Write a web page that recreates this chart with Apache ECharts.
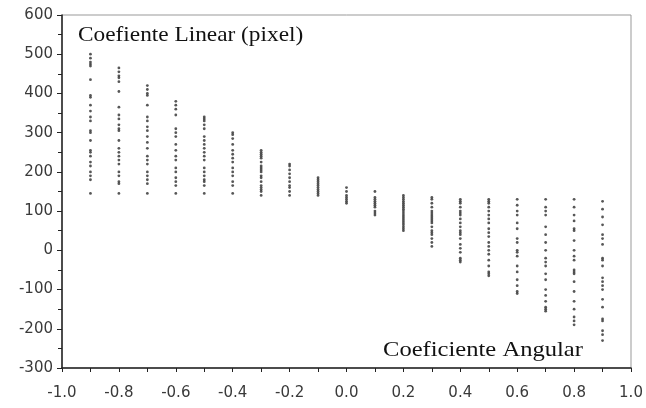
<!DOCTYPE html>
<html>
<head>
<meta charset="utf-8">
<script src="https://cdn.jsdelivr.net/npm/echarts@6/dist/echarts.min.js"></script>
<style>html,body{margin:0;padding:0;background:#fff}#c{width:646px;height:408px}</style>
</head>
<body>
<div id="c"></div>
<script>
// Slope (coeficiente angular) columns
const slopes = [-0.9, -0.8, -0.7, -0.6, -0.5, -0.4, -0.3, -0.2, -0.1, 0.0, 0.1, 0.2, 0.3, 0.4, 0.5, 0.6, 0.7, 0.8, 0.9];
// Intercept values (coeficiente linear, pixel) for each slope column
const intercepts = [
  [500, 490, 480, 475, 470, 435, 395, 390, 370, 355, 340, 330, 305, 300, 280, 255, 250, 240, 225, 215, 200, 190, 180, 145],
  [465, 455, 445, 440, 430, 405, 365, 345, 335, 320, 310, 305, 280, 260, 250, 240, 230, 220, 200, 190, 175, 170, 145],
  [420, 410, 400, 395, 370, 340, 330, 315, 305, 290, 275, 260, 240, 230, 220, 200, 190, 180, 170, 145],
  [380, 370, 360, 345, 310, 300, 290, 270, 255, 240, 230, 210, 200, 185, 175, 165, 145],
  [340, 335, 330, 320, 310, 290, 280, 270, 260, 250, 240, 230, 210, 200, 190, 180, 175, 165, 145],
  [300, 295, 285, 270, 255, 245, 235, 225, 210, 200, 190, 175, 165, 145],
  [255, 250, 245, 240, 235, 225, 215, 210, 205, 200, 190, 185, 175, 165, 160, 155, 150, 140],
  [220, 215, 205, 195, 185, 175, 165, 160, 150, 140],
  [185, 180, 175, 170, 165, 160, 155, 150, 145, 140],
  [160, 150, 140, 135, 130, 125, 120],
  [150, 135, 130, 125, 120, 115, 110, 100, 95, 90],
  [140, 135, 130, 125, 120, 115, 110, 105, 100, 95, 90, 85, 80, 75, 70, 65, 60, 55, 50],
  [135, 130, 120, 110, 100, 95, 90, 85, 80, 75, 70, 60, 50, 45, 40, 30, 20, 10],
  [130, 125, 120, 110, 100, 95, 90, 80, 70, 60, 50, 45, 40, 30, 15, 5, -5, -20, -25, -30],
  [130, 125, 120, 110, 100, 90, 80, 70, 55, 45, 35, 20, 10, 0, -10, -25, -40, -55, -60, -65],
  [130, 115, 100, 90, 70, 55, 30, 20, 0, -5, -15, -40, -55, -75, -90, -105, -110],
  [130, 110, 100, 90, 60, 40, 20, 0, -20, -30, -40, -60, -75, -100, -115, -130, -145, -150, -155],
  [130, 110, 90, 75, 55, 50, 25, 0, -15, -25, -50, -55, -60, -80, -105, -130, -150, -170, -180, -190],
  [125, 105, 85, 65, 40, 30, 15, -20, -25, -40, -70, -80, -90, -100, -125, -145, -175, -180, -205, -215, -230]
];
const yTitle = 'Coefiente Linear (pixel)';
const xTitle = 'Coeficiente Angular';

const points = [];
slopes.forEach((s, i) => intercepts[i].forEach(v => points.push([s, v])));

const chart = echarts.init(document.getElementById('c'), null, {renderer: 'canvas'});
const labelStyle = {color: '#3a3a3a', fontFamily: '"DejaVu Sans", Verdana, sans-serif', fontSize: 15};
const serif = '21px "Liberation Serif", "Times New Roman", serif';
chart.setOption({
  backgroundColor: '#fff',
  animation: false,
  grid: {left: 62, right: 15, top: 15, bottom: 40, show: true, borderColor: '#999', borderWidth: 1},
  xAxis: {
    type: 'value', min: -1, max: 1, interval: 0.1,
    axisLine: {onZero: false, lineStyle: {color: '#222', width: 1.5}},
    axisTick: {length: 4, lineStyle: {color: '#222'}},
    splitLine: {show: false},
    axisLabel: Object.assign({margin: 18, formatter: v => {
      const k = Math.round(v * 10);
      return k % 2 === 0 ? (k / 10).toFixed(1) : '';
    }}, labelStyle)
  },
  yAxis: {
    type: 'value', min: -300, max: 600, interval: 100,
    axisLine: {show: true, onZero: false, lineStyle: {color: '#222', width: 1.5}},
    axisTick: {show: true, length: 5, lineStyle: {color: '#222'}},
    minorTick: {show: true, splitNumber: 2, length: 4, lineStyle: {color: '#222'}},
    splitLine: {show: false},
    axisLabel: Object.assign({margin: 9}, labelStyle)
  },
  series: [{
    type: 'scatter',
    data: points,
    symbol: 'circle',
    symbolSize: 2.8,
    itemStyle: {color: '#3a3a3a', opacity: 0.85}
  }],
  graphic: [
    {type: 'text', x: 78, y: 25, scaleX: 1.11, style: {text: yTitle, font: serif, fill: '#111'}},
    {type: 'text', x: 383, y: 340, scaleX: 1.17, style: {text: xTitle, font: serif, fill: '#111'}}
  ]
});
</script>
</body>
</html>
